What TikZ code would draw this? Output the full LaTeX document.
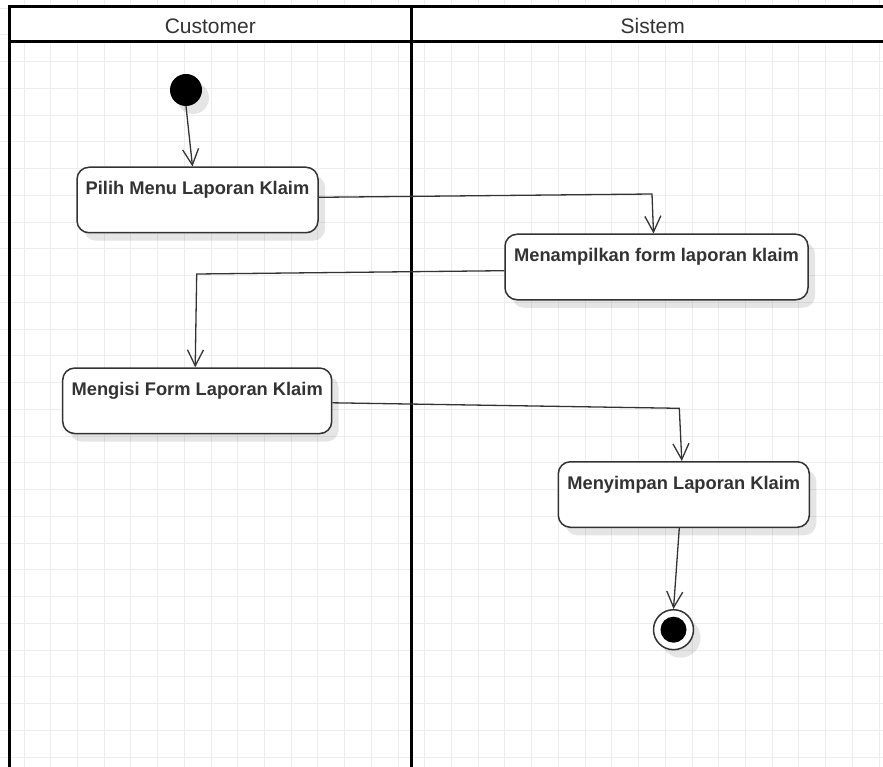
\documentclass[tikz,border=0pt]{standalone}
\usepackage{fontspec}
\setmainfont{Liberation Sans}
\usetikzlibrary{arrows.meta,shadows}
\definecolor{ink}{HTML}{333333}
\definecolor{gridc}{HTML}{EDEDED}
\begin{document}
\begin{tikzpicture}[x=1pt,y=-1pt,
  shade/.style={drop shadow={shadow xshift=7pt,shadow yshift=-8pt,fill=black,opacity=0.10}},
  act/.style={draw=ink, line width=1.5pt, rounded corners=12pt, fill=white,
    inner xsep=0pt, inner ysep=0pt, text height=27.5pt, text depth=38pt,
    font=\fontsize{18.3}{20}\selectfont\bfseries, text=ink, shade},
  flow/.style={draw=ink, line width=1.3pt,
    -{Straight Barb[length=16pt,width=16pt,line width=1.3pt]}},
  lane/.style={line width=3pt, draw=black},
  hdr/.style={font=\fontsize{21}{24}\selectfont, text=ink, inner sep=0pt}]
\useasboundingbox (0,0) rectangle (883,767);
\clip (0,0) rectangle (883,767);
% grid
\foreach \i in {0,...,34}
  \draw[gridc, line width=1pt] ({-2.7+26.72*\i},0) -- ({-2.7+26.72*\i},767);
\foreach \j in {0,...,28}
  \draw[gridc, line width=1pt] (0,{8.2+26.75*\j}) -- (883,{8.2+26.75*\j});
% swimlanes
\fill[white] (9,7) rectangle (894,42);
\draw[lane] (9,800) -- (9,7) -- (894,7) -- (894,800);
\draw[lane] (9,42) -- (894,42);
\draw[lane] (411.7,7) -- (411.7,800);
\node[hdr] (h1) at (210.3,26.3) {Customer};
\node[hdr] (h2) at (652.8,26.3) {Sistem};
% nodes
\node[circle, fill=black, minimum size=32pt, inner sep=0pt, shade] (start) at (186,90) {};
\node[act, minimum width=241pt] (b1) at (197.5,200) {Pilih Menu Laporan Klaim};
\node[act, minimum width=303pt] (b2) at (656.5,267) {Menampilkan form laporan klaim};
\node[act, minimum width=269pt] (b3) at (197.2,400.8) {Mengisi Form Laporan Klaim};
\node[act, minimum width=251pt] (b4) at (683.8,494.5) {Menyimpan Laporan Klaim};
\node[circle, draw=ink, line width=1.5pt, fill=white, minimum size=40pt, inner sep=0pt, shade] (end) at (673.5,629.7) {};
\node[circle, fill=black, minimum size=26pt, inner sep=0pt] (endin) at (end.center) {};
% connectors
\coordinate (c1) at (652,194);
\coordinate (c2) at (196.7,274);
\coordinate (c3) at (679.3,408.3);
\draw[flow] (start.south) -- ([xshift=-5pt]b1.north);
\draw[flow] ([yshift=2.7pt]b1.east) -- (c1) -- ([xshift=-3pt]b2.north);
\draw[flow] ([yshift=-3.7pt]b2.west) -- (c2) -- ([xshift=-2pt]b3.north);
\draw[flow] ([yshift=-2pt]b3.east) -- (c3) -- ([xshift=-2pt]b4.north);
\draw[flow] ([xshift=-4.5pt]b4.south) -- (end.north);
\end{tikzpicture}
\end{document}
